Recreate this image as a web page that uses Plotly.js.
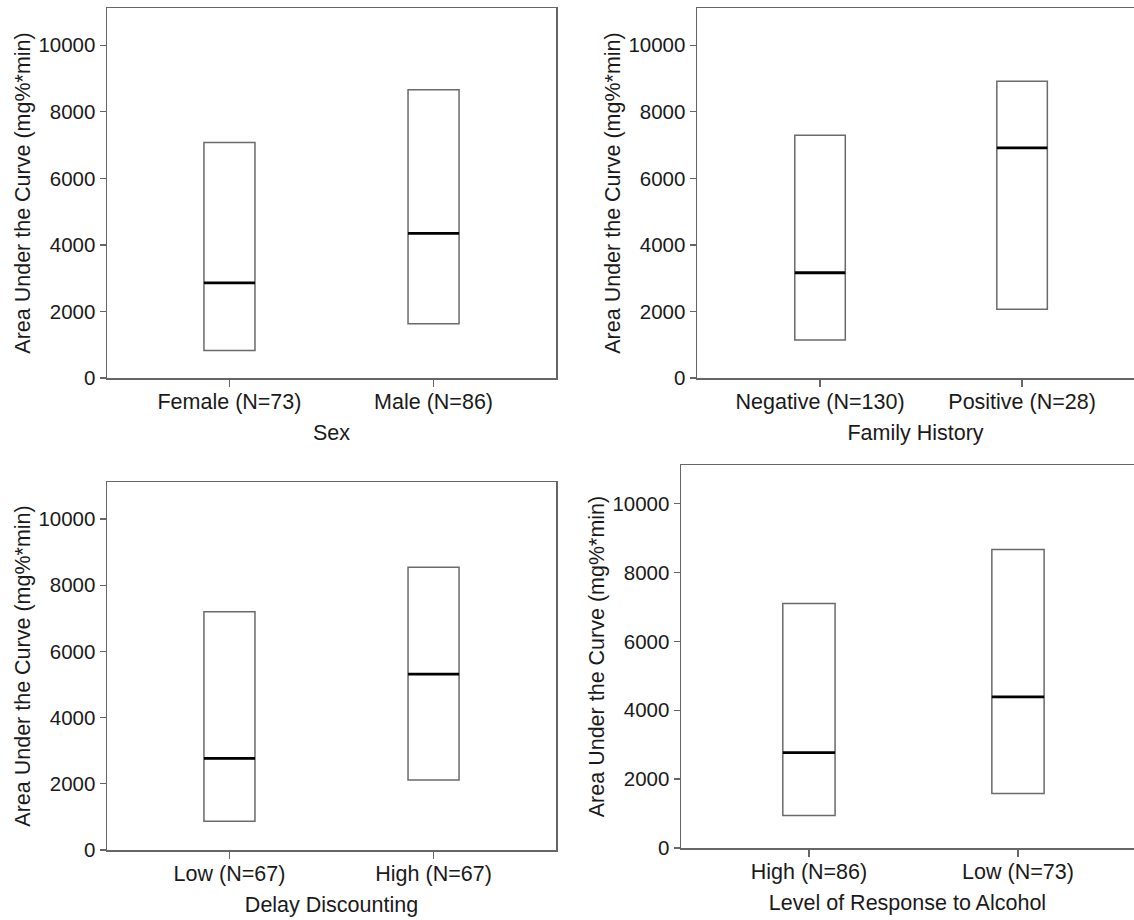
<!DOCTYPE html>
<html>
<head>
<meta charset="utf-8">
<script src="https://cdn.plot.ly/plotly-3.0.1.min.js"></script>
<style>html,body{margin:0;padding:0;background:#fff;}#chart{width:1134px;height:920px;}</style>
</head>
<body>
<div id="chart"></div>
<script>
// ---- data ----
const sexCats = ['Female (N=73)', 'Male (N=86)'];
const sexQ1 = [823, 1627];
const sexMed = [2861, 4347];
const sexQ3 = [7078, 8665];

const famCats = ['Negative (N=130)', 'Positive (N=28)'];
const famQ1 = [1145, 2068];
const famMed = [3163, 6918];
const famQ3 = [7299, 8916];

const ddCats = ['Low (N=67)', 'High (N=67)'];
const ddQ1 = [865, 2113];
const ddMed = [2767, 5312];
const ddQ3 = [7203, 8541];

const lrCats = ['High (N=86)', 'Low (N=73)'];
const lrQ1 = [942, 1583];
const lrMed = [2767, 4388];
const lrQ3 = [7097, 8670];

const yTicks = [0, 2000, 4000, 6000, 8000, 10000];
const yTickText = ['0', '2000', '4000', '6000', '8000', '10000'];
const yTitle = 'Area Under the Curve (mg%*min)';
const xTitles = ['Sex', 'Family History', 'Delay Discounting', 'Level of Response to Alcohol'];

// ---- traces ----
const FONT = 'Liberation Sans, Arial, sans-serif';
function boxTraces(cats, q1, med, q3, xa, ya) {
  return [
    {
      type: 'box', x: cats, q1: q1, median: med, q3: q3,
      lowerfence: q1, upperfence: q3,
      fillcolor: '#ffffff', line: {color: '#6a6a6a', width: 1.5},
      width: 0.25, whiskerwidth: 0, boxpoints: false,
      xaxis: xa, yaxis: ya, hoverinfo: 'skip', showlegend: false
    },
    {
      type: 'box', x: cats, q1: med, median: med, q3: med,
      lowerfence: med, upperfence: med,
      fillcolor: 'rgba(0,0,0,0)', line: {color: '#000000', width: 2.8},
      width: 0.25, whiskerwidth: 0, boxpoints: false,
      xaxis: xa, yaxis: ya, hoverinfo: 'skip', showlegend: false
    }
  ];
}

const data = [].concat(
  boxTraces(sexCats, sexQ1, sexMed, sexQ3, 'x', 'y'),
  boxTraces(famCats, famQ1, famMed, famQ3, 'x2', 'y2'),
  boxTraces(ddCats, ddQ1, ddMed, ddQ3, 'x3', 'y3'),
  boxTraces(lrCats, lrQ1, lrMed, lrQ3, 'x4', 'y4')
);

// ---- layout ----
const W = 1134, H = 920;
const TXT = '#1a1a1a';
function xAxis(left, right, range, title, anchor) {
  return {
    domain: [left / W, right / W], anchor: anchor, type: 'category',
    range: range, showgrid: false, zeroline: false,
    showline: true, mirror: true, linecolor: '#666666', linewidth: 1.5,
    ticks: 'outside', ticklen: 7, tickwidth: 1.3, tickcolor: '#666666',
    ticklabelstandoff: -3,
    tickfont: {family: FONT, size: 21.5, color: TXT},
    title: {text: title, font: {family: FONT, size: 21.5, color: TXT}, standoff: 11},
    fixedrange: true
  };
}
function yAxis(top, bottom, mirror, anchor) {
  return {
    domain: [1 - bottom / H, 1 - top / H], anchor: anchor,
    range: [0, 11120], tickvals: yTicks, ticktext: yTickText,
    showgrid: false, zeroline: false,
    showline: true, mirror: mirror, linecolor: '#666666', linewidth: 1.5,
    ticks: 'outside', ticklen: 6, tickwidth: 1.3, tickcolor: '#666666',
    tickfont: {family: FONT, size: 20.5, color: TXT},
    title: {text: yTitle, font: {family: FONT, size: 21.5, color: TXT}, standoff: 2},
    fixedrange: true
  };
}

const layout = {
  width: W, height: H,
  margin: {l: 0, r: 0, t: 0, b: 0},
  paper_bgcolor: '#ffffff', plot_bgcolor: '#ffffff',
  boxmode: 'overlay', showlegend: false,
  font: {family: FONT, size: 21, color: TXT},
  xaxis: xAxis(107, 556, [-0.6, 1.6], xTitles[0], 'y'),
  yaxis: yAxis(8, 378, true, 'x'),
  xaxis2: xAxis(697, 1134, [-0.609, 1.554], xTitles[1], 'y2'),
  yaxis2: yAxis(8, 378, false, 'x2'),
  xaxis3: xAxis(107, 556, [-0.6, 1.6], xTitles[2], 'y3'),
  yaxis3: yAxis(482, 850, true, 'x3'),
  xaxis4: xAxis(681, 1134, [-0.612, 1.555], xTitles[3], 'y4'),
  yaxis4: yAxis(465, 848, false, 'x4')
};

Plotly.newPlot('chart', data, layout, {displayModeBar: false, staticPlot: true});
</script>
</body>
</html>
